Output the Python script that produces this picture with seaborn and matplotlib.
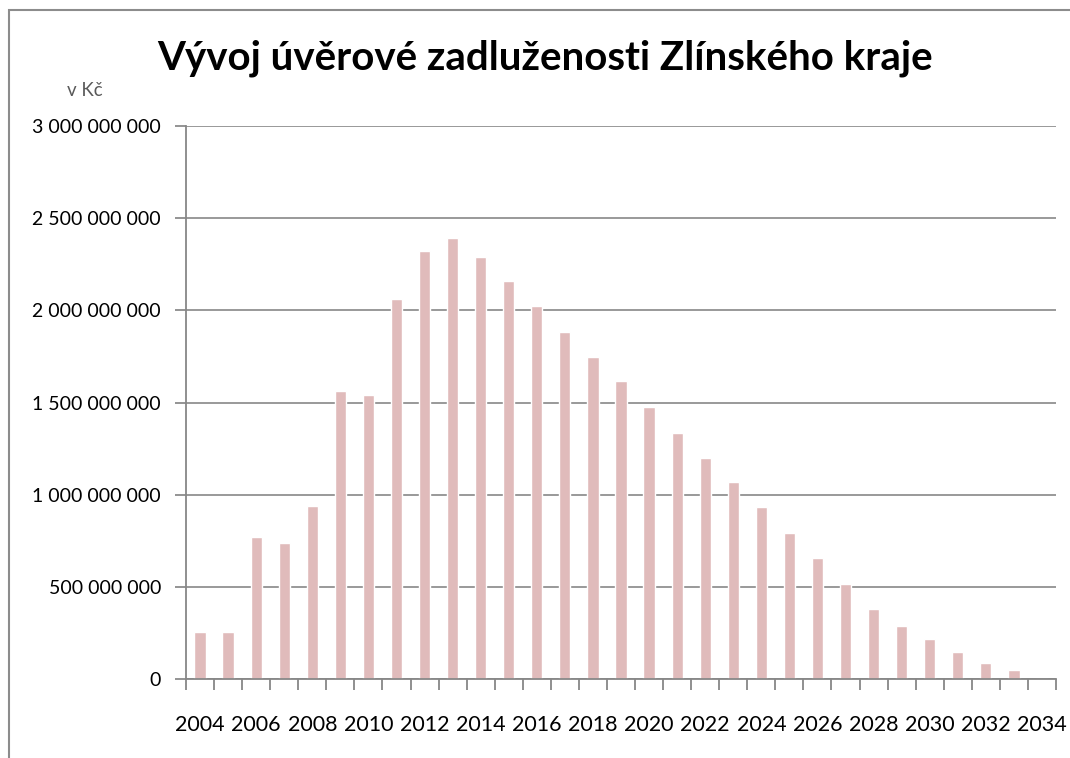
import numpy as np
import pandas as pd
import matplotlib
matplotlib.use("Agg")
import matplotlib.pyplot as plt
import seaborn as sns
from matplotlib.patches import Rectangle
from matplotlib.ticker import FuncFormatter

# data (v Kč)
roky = list(range(2004, 2035))
dluh_mil = [255, 255, 770, 740, 940, 1562, 1543, 2063, 2321, 2390,
            2291, 2161, 2024, 1883, 1745, 1616, 1478, 1337, 1198, 1070,
            931, 792, 655, 514, 382, 285, 216, 146, 87, 49, 0]
popisky_x = [str(r) if (r - 2004) % 2 == 0 else "" for r in roky]

df = pd.DataFrame({"rok": [str(r) for r in roky],
                   "dluh": np.array(dluh_mil) * 1e6})

sns.set_theme(style="white")
plt.rcParams["font.family"] = ["Lato", "DejaVu Sans"]
plt.rcParams["text.color"] = "black"

fig = plt.figure(figsize=(10.7, 7.58), dpi=100)
ax = fig.add_axes([186 / 1070, 1 - 679 / 758, 870 / 1070, 553 / 758])

sns.barplot(data=df, x="rok", y="dluh", color="#E0BBBB", saturation=1,
            width=0.4, ax=ax)

ax.set_ylim(0, 3e9)
ax.set_xlim(-0.5, len(roky) - 0.5)
ax.set_yticks(np.arange(0, 3.01e9, 5e8))
ax.yaxis.set_major_formatter(FuncFormatter(lambda v, p: f"{int(v):,}".replace(",", " ")))
ax.set_xticks(range(len(roky)))
ax.set_xticklabels(popisky_x)
ax.set_xlabel("")
ax.set_ylabel("")

sede = "#878787"
ax.grid(axis="y", color=sede, linewidth=1.2)
ax.set_axisbelow(True)
for s in ["top", "right"]:
    ax.spines[s].set_visible(False)
for s in ["left", "bottom"]:
    ax.spines[s].set_color(sede)
    ax.spines[s].set_linewidth(1.3)

ax.tick_params(axis="y", which="major", left=True, length=8, color=sede,
               labelsize=14, pad=10, labelcolor="black")
ax.tick_params(axis="x", which="major", bottom=False, labelsize=15.5,
               pad=20, labelcolor="black")
# tick marks between categories
ax.set_xticks(np.arange(-0.5, len(roky), 1), minor=True)
ax.tick_params(axis="x", which="minor", bottom=True, length=8, color=sede, width=1.3)

fig.text(545 / 1070, 1 - 58 / 758, "Vývoj úvěrové zadluženosti Zlínského kraje",
         ha="center", va="center", fontsize=29, fontweight="bold", color="black")
fig.text(85 / 1070, 1 - 91 / 758, "v Kč", ha="center", va="center",
         fontsize=13.5, color="#595959")

# outer chart border
fig.patches.append(Rectangle((9 / 1070, -0.1), 1.2, 1 - 10.5 / 758 + 0.1,
                             transform=fig.transFigure, fill=False,
                             edgecolor="#8c8c8c", linewidth=1.5))

fig.savefig("out.png", dpi=100)
